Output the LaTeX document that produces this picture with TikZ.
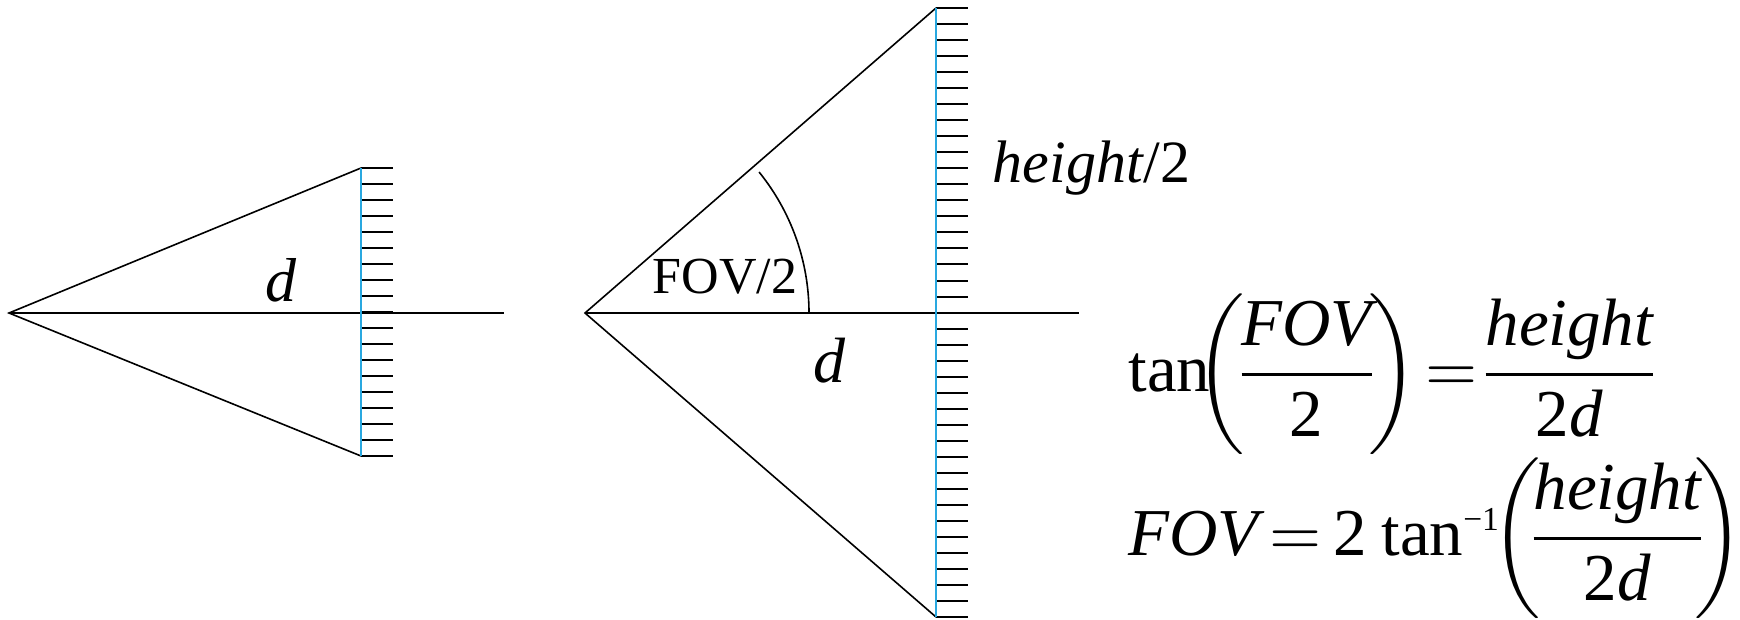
\documentclass[tikz,border=0pt]{standalone}
\usepackage{amsmath}
\usepackage[no-math]{fontspec}
\setmainfont{Liberation Serif}
\definecolor{scrblue}{RGB}{41,168,224}
\begin{document}
\begin{tikzpicture}[x=1pt, y=-1pt, line width=1.6pt,
  tck/.style={black, line width=2pt},
  scr/.style={scrblue, line width=2pt},
  lbl/.style={inner sep=0pt},
  eqn/.style={inner sep=0pt, anchor=base west, scale=6.7, font=\fontsize{10}{12}\selectfont}]
  \useasboundingbox (0,0) rectangle (1740,619);
  % near screen
  \begin{scope}
    \coordinate (eyeL) at (9,313);
    \coordinate (topL) at (361,168);
    \coordinate (botL) at (361,456);
    \coordinate (endL) at (504,313);
    \foreach \k in {0,...,18}{
      \draw[tck] (361,{168+16*\k}) -- ++(32,0);
    }
    \draw (topL) -- (eyeL) -- (botL);
    \draw (eyeL) -- (endL);
    \draw[scr] (topL) -- (botL);
    \node[lbl, font=\fontsize{62}{62}\selectfont\itshape] (dL) at (281,280) {d};
  \end{scope}
  % far screen
  \begin{scope}
    \coordinate (eyeR) at (585,313);
    \coordinate (topR) at (936,8);
    \coordinate (botR) at (936,617);
    \coordinate (endR) at (1079,313);
    \coordinate (arcR) at (809,313);
    \foreach \k in {0,...,38}{
      \draw[tck] (936,{8+16.03*\k}) -- ++(32,0);
    }
    \draw (topR) -- (eyeR) -- (botR);
    \draw (eyeR) -- (endR);
    \draw (arcR) arc[start angle=0, end angle=-39, radius=224];
    \draw[scr] (topR) -- (botR);
    \node[lbl, anchor=base west, font=\fontsize{52}{52}\selectfont] (fovR) at (652,293) {FOV/2};
    \node[lbl, anchor=base west, font=\fontsize{60}{60}\selectfont] (hR) at (992,182) {\textit{height}/2};
    \node[lbl, font=\fontsize{64}{64}\selectfont\itshape] (dR) at (829,361) {d};
  \end{scope}
  % formulas
  \node[eqn] (eqTan) at (1123,391)
    {$\text{tan}\mskip-7mu\left(\mskip-3mu\dfrac{\textit{FOV}}{\text{2}}\mskip-3mu\right)\mskip-1mu{=}\dfrac{\textit{height}}{\text{2}\textit{d}}$};
  \node[eqn] (eqFov) at (1123,555)
    {$\textit{FOV}\mskip3mu{=}\mskip3mu\text{2}\mskip4mu\text{tan}^{\scriptscriptstyle\text{−1}}\mskip-6mu\left(\mskip-4mu\dfrac{\textit{height}}{\text{2}\textit{d}}\mskip-4mu\right)$};
\end{tikzpicture}
\end{document}
